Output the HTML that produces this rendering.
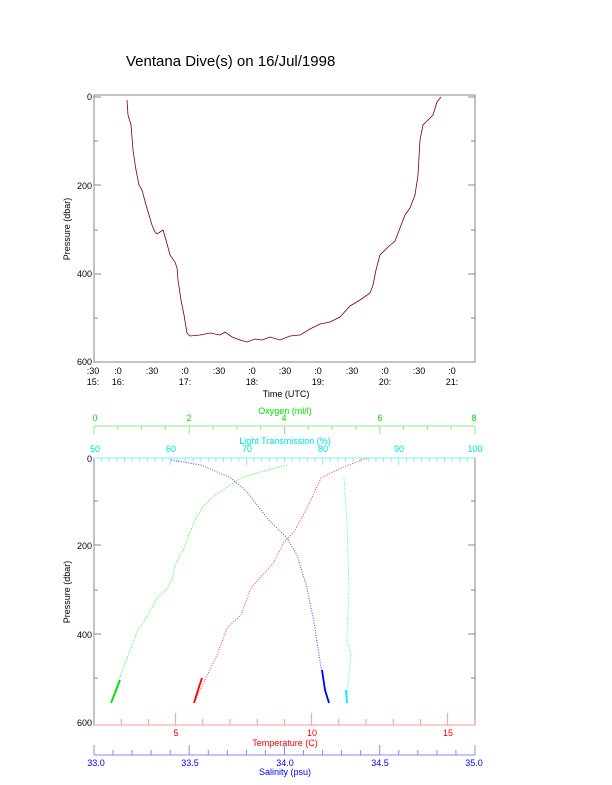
<!DOCTYPE html>
<html><head><style>body{margin:0;background:#fff}svg{display:block}text{font-family:"Liberation Sans",sans-serif;font-size:9px}</style></head><body>
<svg width="612" height="785" viewBox="0 0 612 785">
<text x="126" y="66" style="font-size:15px">Ventana Dive(s) on 16/Jul/1998</text>
<rect x="94" y="95" width="381" height="267" fill="none" stroke="#888"/>
<g stroke="#888">
<line x1="94" y1="97" x2="101" y2="97"/><line x1="94" y1="141" x2="98" y2="141"/><line x1="94" y1="185" x2="101" y2="185"/><line x1="94" y1="230" x2="98" y2="230"/><line x1="94" y1="274" x2="101" y2="274"/><line x1="94" y1="318" x2="98" y2="318"/>
<line x1="468" y1="97" x2="475" y2="97"/><line x1="471" y1="141" x2="475" y2="141"/><line x1="468" y1="185" x2="475" y2="185"/><line x1="471" y1="230" x2="475" y2="230"/><line x1="468" y1="274" x2="475" y2="274"/><line x1="471" y1="318" x2="475" y2="318"/>
</g>
<g text-anchor="end"><text x="92" y="100">0</text><text x="92" y="189">200</text><text x="92" y="277">400</text><text x="92" y="365">600</text></g>
<text transform="translate(70,229) rotate(-90)" text-anchor="middle">Pressure (dbar)</text>
<g text-anchor="middle">
<text x="93" y="374">:30</text><text x="93" y="385">15:</text>
<text x="118" y="374">:0</text><text x="118" y="385">16:</text>
<text x="152" y="374">:30</text>
<text x="185" y="374">:0</text><text x="185" y="385">17:</text>
<text x="219" y="374">:30</text>
<text x="252" y="374">:0</text><text x="252" y="385">18:</text>
<text x="285" y="374">:30</text>
<text x="318" y="374">:0</text><text x="318" y="385">19:</text>
<text x="352" y="374">:30</text>
<text x="385" y="374">:0</text><text x="385" y="385">20:</text>
<text x="419" y="374">:30</text>
<text x="452" y="374">:0</text><text x="452" y="385">21:</text>
<text x="286" y="397">Time (UTC)</text>
</g>
<polyline fill="none" stroke="#700" stroke-width="0.8" points="127,100 128,115 131,125 133,150 136,170 139,185 142,190 146,205 149,215 152,225 155,232 157,234 163,230 166,240 170,255 175,262 177,268 178,280 181,300 184,315 187,333 190,336 200,335 210,333 220,335 225,332 232,337 240,340 247,342 255,339 262,340 270,337 280,340 290,336 300,335 310,329 320,324 330,322 340,317 350,306 360,300 370,293 373,285 376,270 380,255 388,247 395,241 400,228 405,215 410,208 415,195 418,175 420,140 423,125 428,120 433,115 437,102 441,97"/>
<!-- bottom plot -->
<rect x="94" y="458" width="381" height="267" fill="none" stroke="#888"/>
<g stroke="#888">
<line x1="94" y1="501" x2="98" y2="501"/><line x1="94" y1="545" x2="101" y2="545"/><line x1="94" y1="590" x2="98" y2="590"/><line x1="94" y1="634" x2="101" y2="634"/><line x1="94" y1="678" x2="98" y2="678"/>
<line x1="471" y1="501" x2="475" y2="501"/><line x1="468" y1="545" x2="475" y2="545"/><line x1="471" y1="590" x2="475" y2="590"/><line x1="468" y1="634" x2="475" y2="634"/><line x1="471" y1="678" x2="475" y2="678"/>
</g>
<g text-anchor="end"><text x="92" y="462">0</text><text x="92" y="549">200</text><text x="92" y="638">400</text><text x="92" y="726">600</text></g>
<text transform="translate(70,592) rotate(-90)" text-anchor="middle">Pressure (dbar)</text>
<!-- oxygen axis -->
<line x1="94" y1="426" x2="475" y2="426" stroke="#8e8"/>
<path stroke="#8e8" d="M94 426v8M117.8 426v4M141.6 426v4M165.4 426v4M189.3 426v8M213.1 426v4M236.9 426v4M260.7 426v4M284.5 426v8M308.3 426v4M332.1 426v4M355.9 426v4M379.8 426v8M403.6 426v4M427.4 426v4M451.2 426v4M475 426v8"/>
<g fill="#0d0" text-anchor="middle"><text x="95" y="421">0</text><text x="189" y="421">2</text><text x="284" y="421">4</text><text x="380" y="421">6</text><text x="474" y="421">8</text><text x="285" y="414">Oxygen (ml/l)</text></g>
<g fill="#0dd" text-anchor="middle"><text x="95" y="452">50</text><text x="171" y="452">60</text><text x="247" y="452">70</text><text x="323" y="452">80</text><text x="399" y="452">90</text><text x="475" y="452">100</text><text x="285" y="444">Light Transmission (%)</text></g>
<path stroke="#8ee" d="M101.6 458v4M109.2 458v4M116.9 458v4M124.5 458v4M132.1 458v4M139.7 458v4M147.3 458v4M155 458v4M162.6 458v4M170.2 458v7M177.8 458v4M185.4 458v4M193.1 458v4M200.7 458v4M208.3 458v4M215.9 458v4M223.5 458v4M231.2 458v4M238.8 458v4M246.4 458v7M254 458v4M261.6 458v4M269.3 458v4M276.9 458v4M284.5 458v4M292.1 458v4M299.7 458v4M307.4 458v4M315 458v4M322.6 458v7M330.2 458v4M337.8 458v4M345.5 458v4M353.1 458v4M360.7 458v4M368.3 458v4M375.9 458v4M383.6 458v4M391.2 458v4M398.8 458v7M406.4 458v4M414 458v4M421.7 458v4M429.3 458v4M436.9 458v4M444.5 458v4M452.1 458v4M459.8 458v4M467.4 458v4"/>
<line x1="94" y1="458" x2="475" y2="458" stroke="#8ee"/>
<!-- temperature axis -->
<line x1="94" y1="725" x2="475" y2="725" stroke="#f99"/>
<path stroke="#f99" d="M121.2 725v-6M148.4 725v-6M175.6 725v-12M202.8 725v-6M230 725v-6M257.2 725v-6M284.4 725v-6M311.6 725v-12M338.8 725v-6M366 725v-6M393.2 725v-6M420.4 725v-6M447.6 725v-12M474.8 725v-6"/>
<g fill="#f00" text-anchor="middle"><text x="176" y="736">5</text><text x="312" y="736">10</text><text x="448" y="736">15</text><text x="285" y="746">Temperature (C)</text></g>
<!-- salinity axis -->
<line x1="94" y1="755" x2="475" y2="755" stroke="#88f"/>
<path stroke="#88f" d="M94 755v-10M113 755v-5M132.1 755v-5M151.1 755v-5M170.2 755v-5M189.2 755v-10M208.3 755v-5M227.3 755v-5M246.4 755v-5M265.4 755v-5M284.5 755v-10M303.5 755v-5M322.6 755v-5M341.6 755v-5M360.7 755v-5M379.7 755v-10M398.8 755v-5M417.8 755v-5M436.9 755v-5M455.9 755v-5M475 755v-10"/>
<g fill="#00f" text-anchor="middle"><text x="96" y="766">33.0</text><text x="190" y="766">33.5</text><text x="285" y="766">34.0</text><text x="380" y="766">34.5</text><text x="474" y="766">35.0</text><text x="285" y="775">Salinity (psu)</text></g>
<g fill="none" stroke-width="1" stroke-dasharray="1 1.5">
<polyline stroke="#4e4" points="287,465 260,472 241,478 215,495 204,505 194,522 184,548 175,565 172,580 166,590 157,598 152,608 137,632 127,658 117,685 111,703"/>
<polyline stroke="#f44" points="367,458 341,468 321,478 307,508 294,532 284,542 274,562 251,588 241,615 227,628 217,655 204,682 194,703"/>
<polyline stroke="#44f" points="171,460 201,465 231,478 247,492 267,518 287,538 297,555 307,588 314,622 319,655 324,685 329,703"/>
<polyline stroke="#4ee" points="344,478 347,522 349,588 347,638 351,655 346,703"/>
</g>
<g fill="none" stroke-width="1.8">
<polyline stroke="#0d0" points="120,680 115,693 111,703"/>
<polyline stroke="#f00" points="202,678 198,690 194,703"/>
<polyline stroke="#00f" points="322,670 325,690 329,703"/>
<polyline stroke="#0ee" points="346,690 347,703"/>
</g>
</svg>
</body></html>
